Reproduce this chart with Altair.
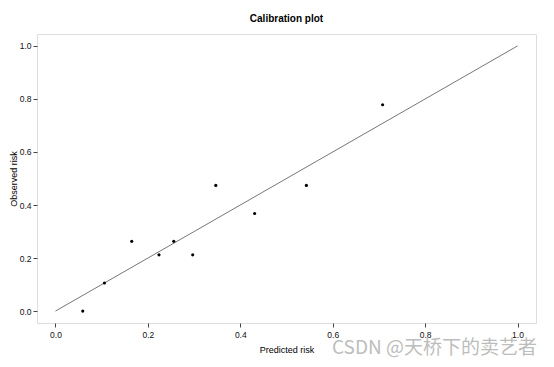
import altair as alt
import pandas as pd

predicted = [0.059, 0.106, 0.165, 0.224, 0.256, 0.297, 0.347, 0.431, 0.543, 0.708]
observed = [0.0, 0.106, 0.263, 0.212, 0.263, 0.212, 0.474, 0.368, 0.474, 0.778]
diag_x = [0.0, 1.0]
diag_y = [0.0, 1.0]
ticks = [0.0, 0.2, 0.4, 0.6, 0.8, 1.0]

pts = pd.DataFrame({"pred": predicted, "obs": observed})
diag = pd.DataFrame({"pred": diag_x, "obs": diag_y})

FONT = "Liberation Sans"
xs = alt.Scale(domain=[-0.04, 1.04], nice=False, zero=False)
ys = alt.Scale(domain=[-0.045, 1.045], nice=False, zero=False)

xaxis = alt.Axis(values=ticks, format=".1f", title="Predicted risk", grid=False,
                 domain=False, tickSize=4, tickColor="#444", labelPadding=3,
                 labelFontSize=8.5, labelFont=FONT, labelColor="#111",
                 titleFont=FONT, titleFontSize=9, titleFontWeight="normal",
                 titleColor="#000", titlePadding=7)
yaxis = alt.Axis(values=ticks, format=".1f", title="Observed risk", grid=False,
                 domain=False, tickSize=4, tickColor="#444", labelPadding=2,
                 labelFontSize=8.5, labelFont=FONT, labelColor="#111",
                 titleFont=FONT, titleFontSize=9, titleFontWeight="normal",
                 titleColor="#000", titleX=-24, titleBaseline="middle")

line = alt.Chart(diag).mark_line(color="#777777", strokeWidth=1).encode(
    x=alt.X("pred:Q", scale=xs, axis=xaxis),
    y=alt.Y("obs:Q", scale=ys, axis=yaxis),
)
points = alt.Chart(pts).mark_circle(color="#000000", size=10, opacity=1).encode(
    x=alt.X("pred:Q", scale=xs),
    y=alt.Y("obs:Q", scale=ys),
)
wm = alt.Chart(pd.DataFrame({"t": ["CSDN @天桥下的卖艺者"]})).mark_text(
    font="Noto Sans CJK SC", fontSize=19, color="#bdbdbd", align="right",
    baseline="middle"
).encode(x=alt.value(500), y=alt.value(314), text="t:N")

chart = alt.layer(line, points, wm).properties(
    width=499, height=289,
    title=alt.TitleParams("Calibration plot", font=FONT, fontSize=10,
                          fontWeight="bold", color="#000", anchor="middle",
                          offset=10),
    autosize=alt.AutoSizeParams(type="none"),
    padding={"left": 29, "top": 26, "right": 10, "bottom": 36},
).configure_view(stroke="#444444", strokeWidth=1).configure(background="white")

chart.save("out.html", embed_options={"renderer": "svg", "actions": False})
